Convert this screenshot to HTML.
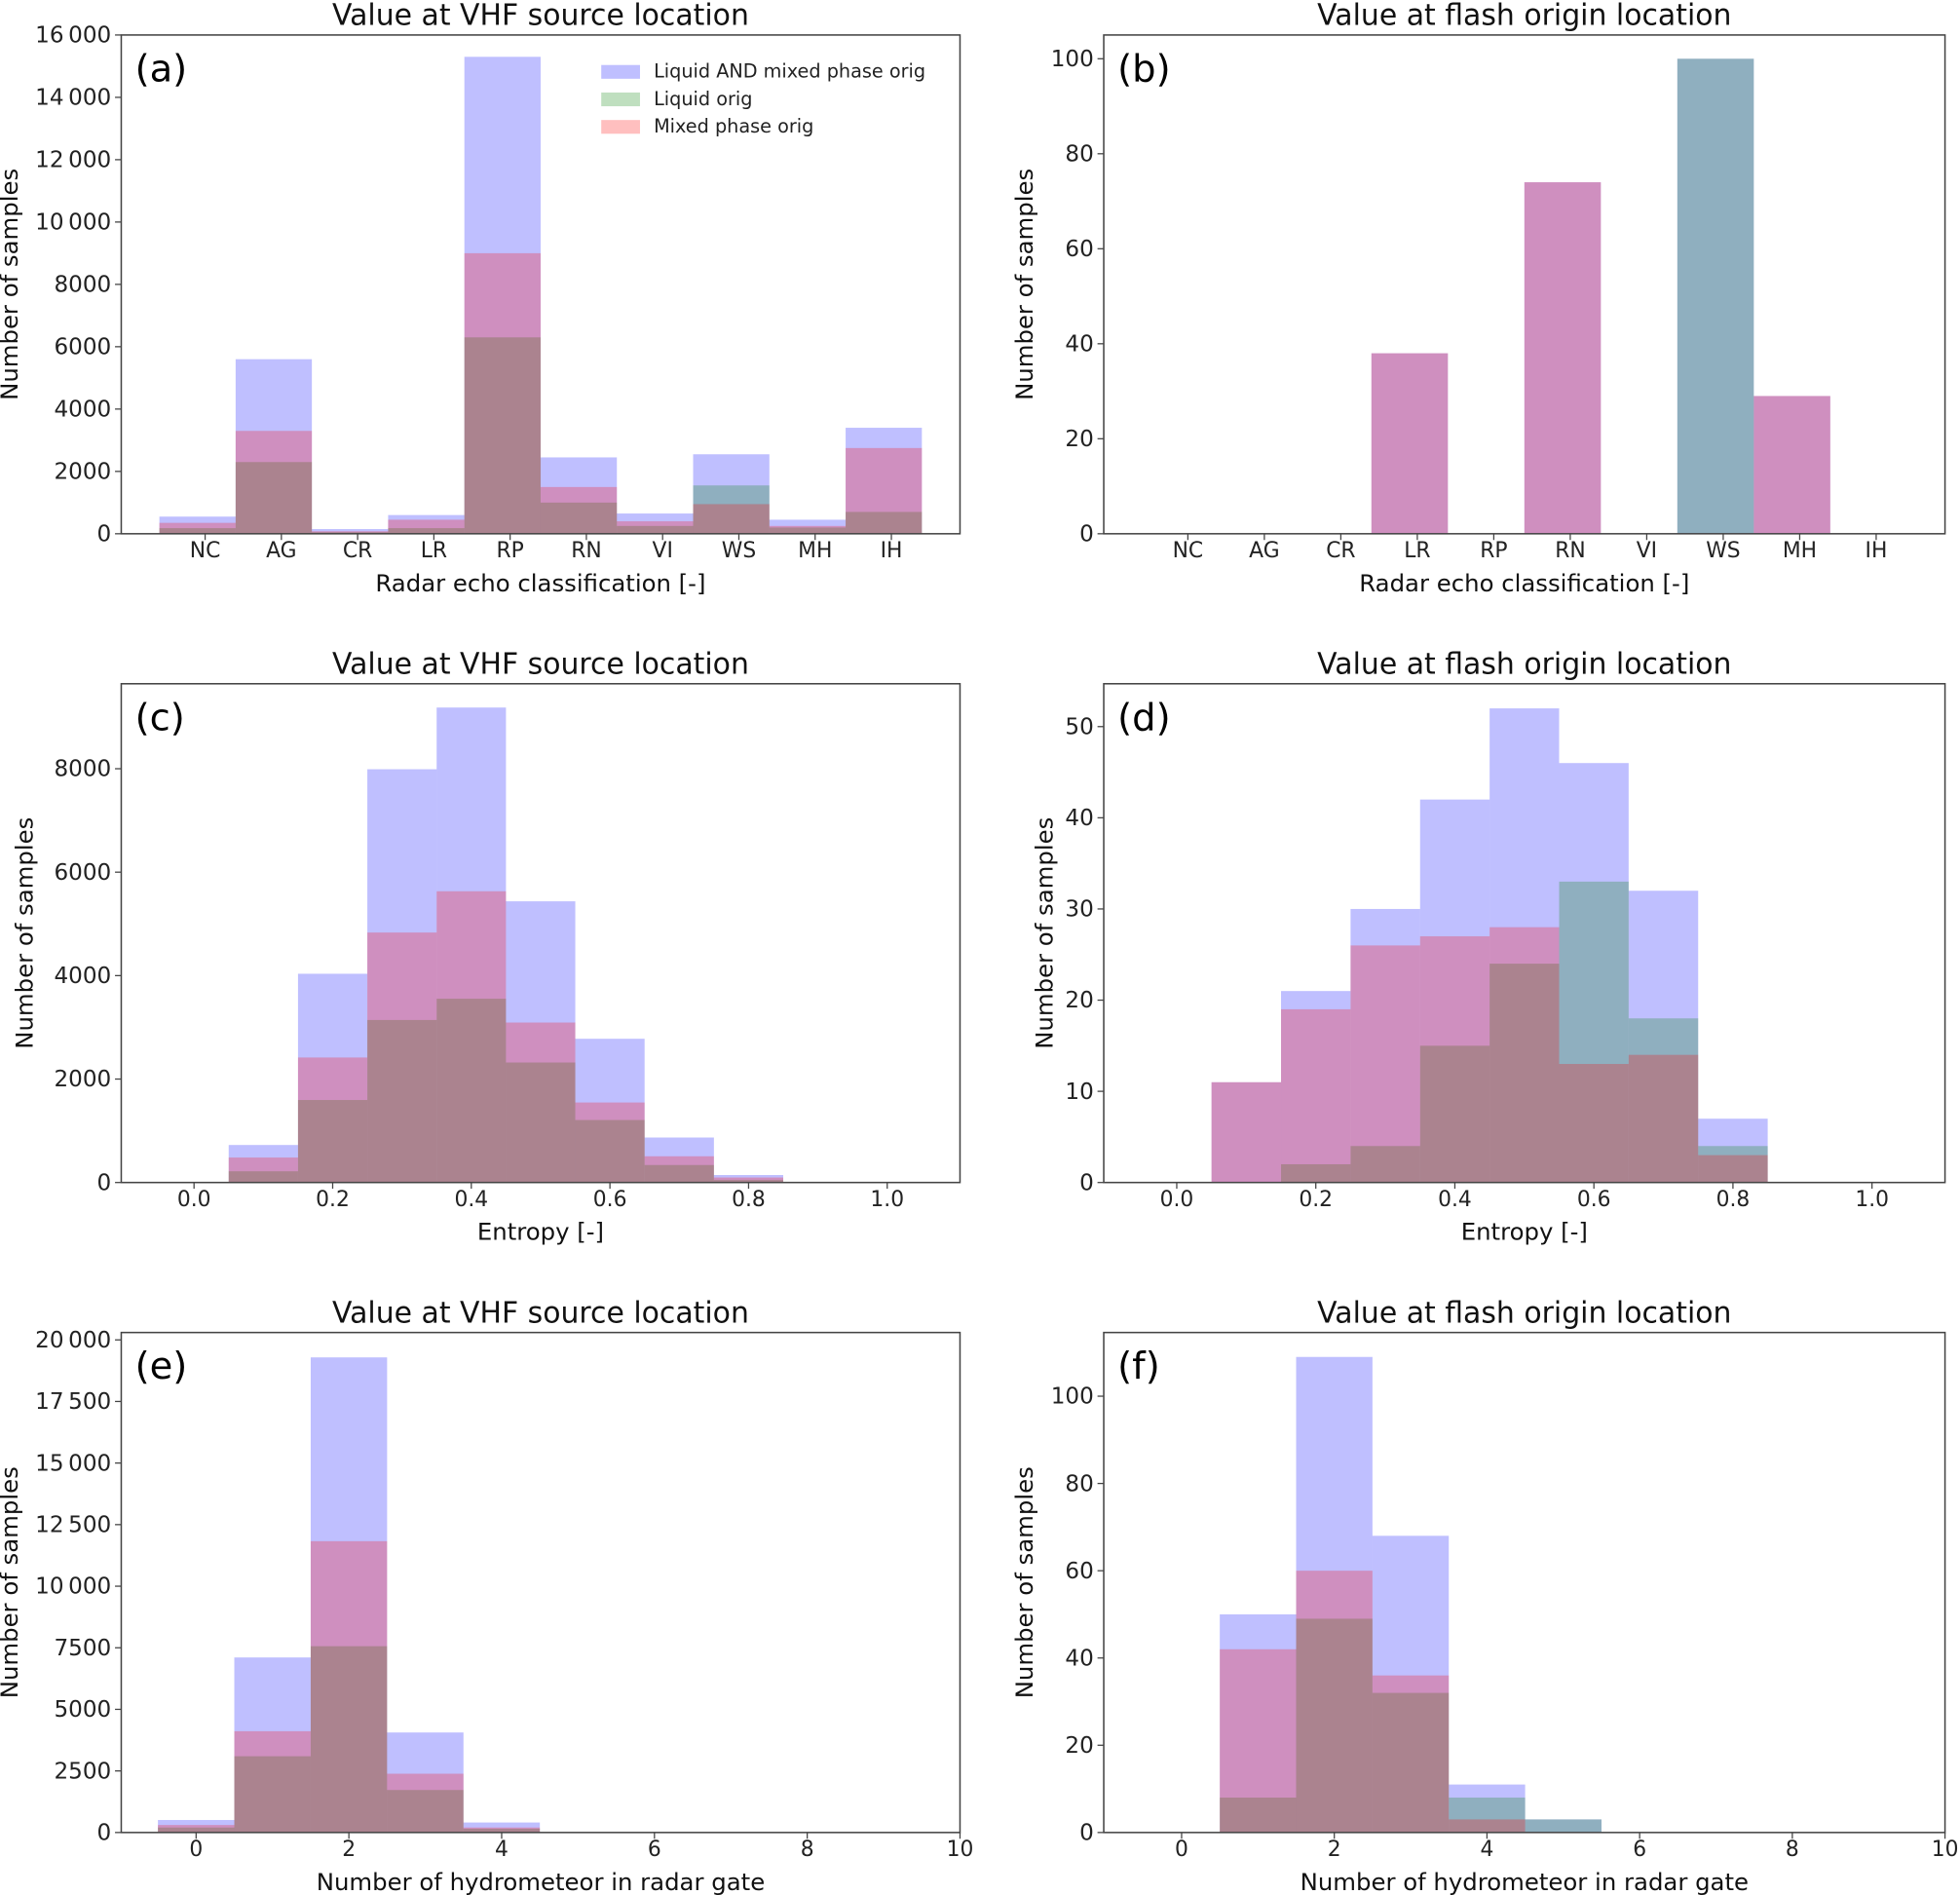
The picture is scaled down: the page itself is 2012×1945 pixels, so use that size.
<!DOCTYPE html>
<html><head><meta charset="utf-8"><style>
html,body{margin:0;padding:0;background:#fff;}
svg{display:block;font-family:"DejaVu Sans","Liberation Sans",sans-serif;}
</style></head><body>
<svg id="fig" width="2012" height="1945" viewBox="0 0 1568 1516" preserveAspectRatio="none" xmlns="http://www.w3.org/2000/svg"></svg>
<script>
const cats = ["NC","AG","CR","LR","RP","RN","VI","WS","MH","IH"];
// panel a
const aAll = [550,5600,150,600,15300,2450,650,2550,450,3400];
const aLiq = [180,2300,50,180,6300,1000,250,1550,200,700];
const aMix = [350,3300,80,450,9000,1500,400,950,250,2750];
// panel b
const bAll = [0,0,0,38,0,74,0,100,29,0];
const bLiq = [0,0,0,0,0,0,0,100,0,0];
const bMix = [0,0,0,38,0,74,0,0,29,0];
// panel c (entropy bins 0.05..0.85)
const entEdges = [0.05,0.15,0.25,0.35,0.45,0.55,0.65,0.75,0.85];
const cAll = [725,4036,7990,9183,5437,2779,870,145];
const cLiq = [217,1595,3142,3553,2320,1208,338,48];
const cMix = [483,2417,4833,5631,3093,1547,507,97];
// panel d
const dAll = [11,21,30,42,52,46,32,7];
const dLiq = [0,2,4,15,24,33,18,4];
const dMix = [11,19,26,27,28,13,14,3];
// panel e (hydrometeor bins -0.5..5.5)
const hydEdges = [-0.5,0.5,1.5,2.5,3.5,4.5,5.5];
const eAll = [508,7107,19290,4061,406,0];
const eLiq = [203,3096,7563,1726,152,0];
const eMix = [305,4112,11827,2386,203,0];
// panel f
const fAll = [0,50,109,68,11,3];
const fLiq = [0,8,49,32,8,3];
const fMix = [0,42,60,36,3,0];
// tick labels
const aYTicks = [0,2000,4000,6000,8000,10000,12000,14000,16000];
const bYTicks = [0,20,40,60,80,100];
const cYTicks = [0,2000,4000,6000,8000];
const dYTicks = [0,10,20,30,40,50];
const eYTicks = [0,2500,5000,7500,10000,12500,15000,17500,20000];
const fYTicks = [0,20,40,60,80,100];
const entTicks = [0.0,0.2,0.4,0.6,0.8,1.0];
const hydTicks = [0,2,4,6,8,10];

const NS="http://www.w3.org/2000/svg";
const svg=document.getElementById('fig');
function mk(tag,attrs,parent){const e=document.createElementNS(NS,tag);for(const k in attrs)e.setAttribute(k,attrs[k]);(parent||svg).appendChild(e);return e;}
function fmt(v,thin){if(thin&&v>=10000){const s=String(v);return s.slice(0,s.length-3)+"\u2009"+s.slice(-3);}return String(v);}

function panel(o){
  const g=mk('g',{});
  
  
  const X=v=>o.x0+(v-o.xmin)/(o.xmax-o.xmin)*(o.x1-o.x0);
  const Y=v=>o.y1-(v-0)/o.ymax*(o.y1-o.y0);
  const series=[[o.all,'rgba(0,0,255,0.25)','bar-all'],[o.liq,'rgba(0,128,0,0.25)','bar-liquid'],[o.mix,'rgba(255,0,0,0.25)','bar-mixed']];
  series.forEach(([vals,col,nm])=>{
    vals.forEach((v,i)=>{
      if(v<=0)return;
      const xa=X(o.edges[i]),xb=X(o.edges[i+1]);
      const r=mk('rect',{x:xa,y:Y(v),width:xb-xa,height:Y(0)-Y(v),fill:col},g);
      
      
    });
  });
  const fr=mk('rect',{x:o.x0,y:o.y0,width:o.x1-o.x0,height:o.y1-o.y0,fill:'none',stroke:'#444','stroke-width':1.2},g);
  
  
  o.yticks.forEach(t=>{
    const y=Y(t);
    mk('line',{x1:o.x0-5,x2:o.x0,y1:y,y2:y,stroke:'#444','stroke-width':1},g);
    const tx=mk('text',{x:o.x0-8,y:y+6,'text-anchor':'end','font-size':18,fill:'#222'},g);
    tx.textContent=fmt(t,o.thin);
    
    
  });
  o.xticks.forEach((t,i)=>{
    const x=X(t.pos);
    mk('line',{x1:x,x2:x,y1:o.y1,y2:o.y1+5,stroke:'#444','stroke-width':1},g);
    const tx=mk('text',{x:x+(t.dx||0),y:o.y1+19,'text-anchor':'middle','font-size':17,fill:'#222'},g);
    tx.textContent=t.label;
    
    
  });
  const ti=mk('text',{x:(o.x0+o.x1)/2,y:o.y0-8,'text-anchor':'middle','font-size':23.3,fill:'#111'},g);
  ti.textContent=o.title;
  
  
  const xl=mk('text',{x:(o.x0+o.x1)/2,y:o.y1+46,'text-anchor':'middle','font-size':19,fill:'#111'},g);
  xl.textContent=o.xlabel;
  
  
  const cy=(o.y0+o.y1)/2;
  const yl=mk('text',{x:o.ylx,y:cy,'text-anchor':'middle','font-size':19,fill:'#111',transform:`rotate(-90 ${o.ylx} ${cy})`},g);
  yl.textContent='Number of samples';
  
  
  const pl=mk('text',{x:o.x0+11,y:o.y0+37,'font-size':30,fill:'#000'},g);
  pl.textContent=o.letter;
  
  
  return g;
}
const catEdges=cats.map((c,i)=>i).concat([10]);
const catTicks=cats.map((c,i)=>({pos:i+0.6,label:c}));
const entTk=entTicks.map(t=>({pos:t,label:t.toFixed(1)}));
const hydTk=hydTicks.map(t=>({pos:t,label:String(t)}));

panel({name:'panel-a',letter:'(a)',title:'Value at VHF source location',xlabel:'Radar echo classification [-]',x0:97,x1:768,y0:28,y1:427,xmin:-0.5,xmax:10.5,ymax:16000,edges:catEdges,all:aAll,liq:aLiq,mix:aMix,yticks:aYTicks,xticks:catTicks,ylx:14,thin:true});
panel({name:'panel-b',letter:'(b)',title:'Value at flash origin location',xlabel:'Radar echo classification [-]',x0:883,x1:1556,y0:28,y1:427,xmin:-0.5,xmax:10.5,ymax:105,edges:catEdges,all:bAll,liq:bLiq,mix:bMix,yticks:bYTicks,xticks:catTicks,ylx:826});
panel({name:'panel-c',letter:'(c)',title:'Value at VHF source location',xlabel:'Entropy [-]',x0:97,x1:768,y0:547,y1:946,xmin:-0.105,xmax:1.105,ymax:9643,edges:entEdges,all:cAll,liq:cLiq,mix:cMix,yticks:cYTicks,xticks:entTk,ylx:26});
panel({name:'panel-d',letter:'(d)',title:'Value at flash origin location',xlabel:'Entropy [-]',x0:883,x1:1556,y0:547,y1:946,xmin:-0.105,xmax:1.105,ymax:54.7,edges:entEdges,all:dAll,liq:dLiq,mix:dMix,yticks:dYTicks,xticks:entTk,ylx:842});
panel({name:'panel-e',letter:'(e)',title:'Value at VHF source location',xlabel:'Number of hydrometeor in radar gate',x0:97,x1:768,y0:1066,y1:1466,xmin:-0.98,xmax:10,ymax:20300,edges:hydEdges,all:eAll,liq:eLiq,mix:eMix,yticks:eYTicks,xticks:hydTk,ylx:14,thin:true});
panel({name:'panel-f',letter:'(f)',title:'Value at flash origin location',xlabel:'Number of hydrometeor in radar gate',x0:883,x1:1556,y0:1066,y1:1466,xmin:-1.02,xmax:10,ymax:114.6,edges:hydEdges,all:fAll,liq:fLiq,mix:fMix,yticks:fYTicks,xticks:hydTk,ylx:826});

// legend
const lg=mk('g',{});


const legLabels=['Liquid AND mixed phase orig','Liquid orig','Mixed phase orig'];
const legCols=['rgba(0,0,255,0.25)','rgba(0,128,0,0.25)','rgba(255,0,0,0.25)'];
legLabels.forEach((l,i)=>{
  const y=52+i*22;
  const r=mk('rect',{x:481,y:y,width:31,height:11,fill:legCols[i]},lg);
  
  
  const t=mk('text',{x:523,y:y+10,'font-size':15,fill:'#222'},lg);
  t.textContent=l;
  
  
});
</script>
</body></html>
